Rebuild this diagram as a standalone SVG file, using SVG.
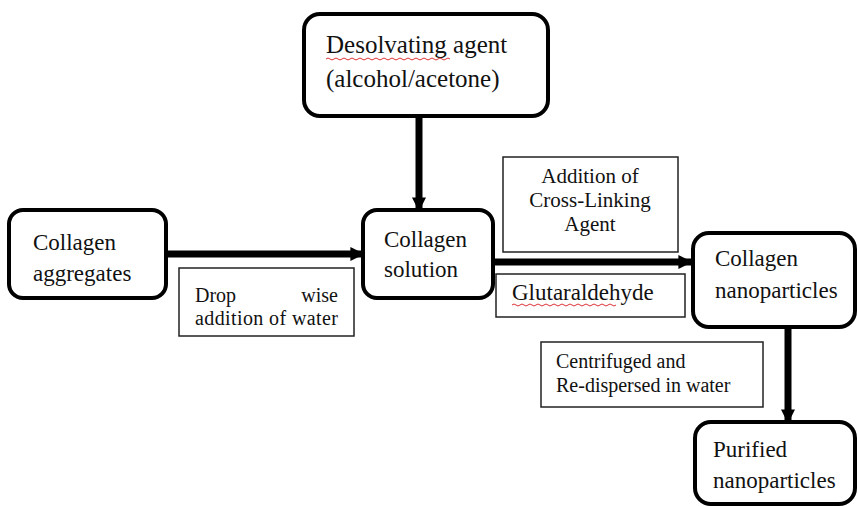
<svg xmlns="http://www.w3.org/2000/svg" width="857" height="506" viewBox="0 0 857 506" font-family="'Liberation Serif', 'Times New Roman', serif">
<defs>
<style>
.node{fill:#fff;stroke:#000;stroke-width:4}
.lbl{fill:#fff;stroke:#222;stroke-width:1.5}
text{font-family:'Liberation Serif','Times New Roman',serif;fill:#111}
.t23{font-size:23px}
.t25{font-size:25px}
.t20{font-size:20px}
.t21{font-size:21px}
.conn{stroke:#000;stroke-width:7;fill:none}
.sq{fill:none;stroke:#d33;stroke-width:1}
</style>
<marker id="ah" viewBox="0 0 10 10" refX="9" refY="5" markerWidth="2" markerHeight="2" orient="auto" markerUnits="strokeWidth">
<path d="M0,0 L10,5 L0,10 z" fill="#000"/>
</marker>
</defs>
<rect width="857" height="506" fill="#fff"/>

<g id="connectors">
<line class="conn" x1="419" y1="116" x2="419" y2="210" marker-end="url(#ah)"/>
<line class="conn" x1="166" y1="254" x2="363" y2="254" marker-end="url(#ah)"/>
<line class="conn" x1="493" y1="262" x2="691" y2="262" marker-end="url(#ah)"/>
<line class="conn" x1="788" y1="327" x2="788" y2="422" marker-end="url(#ah)"/>
</g>

<g id="desolvating">
<rect class="node" x="304" y="14" width="244" height="102" rx="16"/>
<text class="t25" x="326" y="53">Desolvating agent</text>
<text class="t25" x="326" y="87">(alcohol/acetone)</text>
<path class="sq" d="M326,59 q2,-2 4,0 t4,0 t4,0 t4,0 t4,0 t4,0 t4,0 t4,0 t4,0 t4,0 t4,0 t4,0 t4,0 t4,0 t4,0 t4,0 t4,0 t4,0 t4,0 t4,0 t4,0 t4,0 t4,0 t4,0 t4,0 t4,0 t4,0 t4,0 t4,0 t4,0 t4,0"/>
</g>

<g id="aggregates">
<rect class="node" x="9" y="210" width="157" height="88" rx="14"/>
<text class="t23" x="33" y="250">Collagen</text>
<text class="t23" x="33" y="281">aggregates</text>
</g>

<g id="solution">
<rect class="node" x="363" y="210" width="130" height="88" rx="14"/>
<text class="t23" x="384" y="247">Collagen</text>
<text class="t23" x="384" y="277">solution</text>
</g>

<g id="nanoparticles">
<rect class="node" x="693" y="233" width="162" height="94" rx="16"/>
<text class="t23" x="715" y="266">Collagen</text>
<text class="t23" x="715" y="298">nanoparticles</text>
</g>

<g id="purified">
<rect class="node" x="695" y="422" width="160" height="82" rx="16"/>
<text class="t23" x="713" y="457">Purified</text>
<text class="t23" x="713" y="488">nanoparticles</text>
</g>

<g id="dropwise">
<rect class="lbl" x="179" y="268" width="175" height="68"/>
<text class="t20" x="195" y="302">Drop</text>
<text class="t20" x="338" y="302" text-anchor="end">wise</text>
<text class="t20" x="195" y="325" textLength="143" lengthAdjust="spacing">addition of water</text>
</g>

<g id="crosslinking">
<rect class="lbl" x="503" y="157" width="175" height="95"/>
<text class="t21" x="590" y="183" text-anchor="middle">Addition of</text>
<text class="t21" x="590" y="207" text-anchor="middle">Cross-Linking</text>
<text class="t21" x="590" y="231" text-anchor="middle">Agent</text>
</g>

<g id="glutaraldehyde">
<rect class="lbl" x="496" y="274" width="189" height="43"/>
<text class="t23" x="512" y="300">Glutaraldehyde</text>
<path class="sq" d="M512,305 q2,-2 4,0 t4,0 t4,0 t4,0 t4,0 t4,0 t4,0 t4,0 t4,0 t4,0 t4,0 t4,0 t4,0 t4,0 t4,0 t4,0 t4,0 t4,0 t4,0 t4,0 t4,0 t4,0 t4,0 t4,0 t4,0 t4,0"/>
</g>

<g id="centrifuged">
<rect class="lbl" x="541" y="342" width="222" height="65"/>
<text class="t20" x="556" y="368">Centrifuged and</text>
<text class="t20" x="556" y="392">Re-dispersed in water</text>
</g>
</svg>
